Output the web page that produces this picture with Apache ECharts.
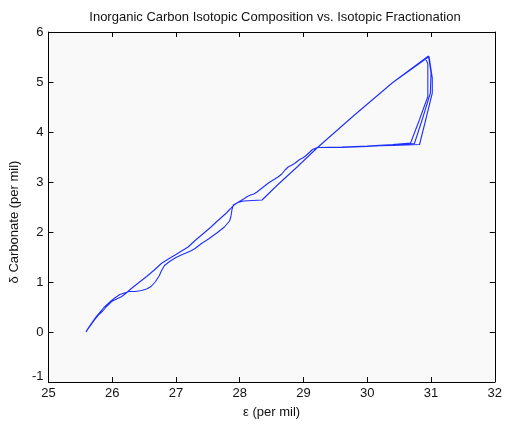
<!DOCTYPE html>
<html>
<head>
<meta charset="utf-8">
<script src="https://cdn.jsdelivr.net/npm/echarts@6/dist/echarts.min.js"></script>
<style>
  html, body { margin: 0; padding: 0; background: #ffffff; }
  #chart { width: 505px; height: 424px; }
</style>
</head>
<body>
<div id="chart"></div>
<script>
// Trajectory of [epsilon (per mil), delta carbonate (per mil)] pairs, in time order.

// Rising leg from the start point up the smooth upper track to the crossing near 27.9
const risingLeg = [
  [25.59, 0.00], [25.62, 0.06], [25.66, 0.13], [25.71, 0.22], [25.76, 0.30],
  [25.80, 0.36], [25.85, 0.42], [25.92, 0.52], [25.99, 0.61], [26.07, 0.66],
  [26.15, 0.71], [26.22, 0.78], [26.30, 0.87], [26.42, 0.99], [26.54, 1.11],
  [26.66, 1.24], [26.77, 1.37], [26.88, 1.46], [27.00, 1.55], [27.10, 1.63],
  [27.19, 1.70], [27.30, 1.83], [27.42, 1.96], [27.54, 2.09], [27.65, 2.22],
  [27.72, 2.30], [27.79, 2.38], [27.85, 2.46], [27.90, 2.53]
];

// Wiggly upper branch from the crossing to the foot of the triangle
const upperBranch = [
  [27.98, 2.60], [28.06, 2.66], [28.12, 2.71], [28.17, 2.74], [28.22, 2.76],
  [28.27, 2.80], [28.33, 2.86], [28.37, 2.90], [28.45, 2.98], [28.50, 3.02],
  [28.55, 3.06], [28.60, 3.10], [28.66, 3.16], [28.71, 3.24], [28.76, 3.30],
  [28.82, 3.34], [28.86, 3.37], [28.94, 3.45], [29.00, 3.49], [29.04, 3.53],
  [29.10, 3.60], [29.14, 3.65], [29.22, 3.69]
];

// Three passes round the triangle: along the base, up the right side, back down the diagonal
const loopOne = [
  [29.60, 3.70], [30.00, 3.72], [30.40, 3.75], [30.68, 3.78],
  [30.82, 4.25], [30.95, 4.71], [30.95, 5.05], [30.95, 5.37], [30.91, 5.47],
  [30.40, 4.99], [29.80, 4.34], [29.22, 3.69]
];
const loopTwo = [
  [29.60, 3.69], [30.00, 3.71], [30.40, 3.74], [30.74, 3.77],
  [30.87, 4.28], [30.99, 4.78], [31.00, 5.18], [30.96, 5.52],
  [30.40, 4.99], [29.80, 4.34], [29.22, 3.69]
];
const loopThree = [
  [29.60, 3.70], [30.00, 3.72], [30.40, 3.73], [30.82, 3.75],
  [30.92, 4.26], [31.02, 4.78], [31.02, 5.08], [30.97, 5.51],
  [30.40, 4.99], [29.80, 4.34], [29.22, 3.69]
];

// Return leg: straight lower track, flat step, drop at the crossing, wiggly lower track home
const returnLeg = [
  [28.90, 3.30], [28.60, 2.95], [28.35, 2.64], [28.20, 2.63], [28.06, 2.62],
  [27.97, 2.59], [27.90, 2.54], [27.88, 2.46], [27.87, 2.38], [27.86, 2.30],
  [27.84, 2.22], [27.76, 2.10], [27.64, 1.98], [27.51, 1.86], [27.40, 1.77],
  [27.30, 1.67], [27.23, 1.62], [27.10, 1.55], [27.00, 1.49], [26.90, 1.41],
  [26.82, 1.33], [26.77, 1.22], [26.74, 1.13], [26.68, 1.01], [26.61, 0.91],
  [26.54, 0.86], [26.46, 0.83], [26.36, 0.81], [26.26, 0.81], [26.19, 0.78],
  [26.12, 0.75], [26.05, 0.69], [25.99, 0.63], [25.93, 0.56], [25.87, 0.49],
  [25.81, 0.40], [25.75, 0.31], [25.70, 0.22], [25.64, 0.11], [25.59, 0.01]
];

const xTicks = { min: 25, max: 32, step: 1 };
const yTicks = { min: -1, max: 6, step: 1 };

const trajectory = [].concat(risingLeg, upperBranch, loopOne, loopTwo, loopThree, returnLeg);

const chart = echarts.init(document.getElementById('chart'), null, { renderer: 'canvas' });

const font = 'Liberation Sans, Arial, Helvetica, sans-serif';
const boxAxis = {
  type: 'value',
  axisLine: { show: true, onZero: false, lineStyle: { color: '#000', width: 1 } },
  axisTick: { show: true, inside: true, length: 5, lineStyle: { color: '#000' } },
  splitLine: { show: false }
};

chart.setOption({
  animation: false,
  backgroundColor: '#ffffff',
  title: {
    text: 'Inorganic Carbon Isotopic Composition vs. Isotopic Fractionation',
    left: 270,
    textAlign: 'center',
    top: 6,
    textStyle: { fontFamily: font, fontSize: 13, fontWeight: 'normal', color: '#111' }
  },
  grid: {
    left: 46, right: 8, top: 32, bottom: 40,
    show: true, backgroundColor: '#f9f9f9', borderWidth: 0
  },
  xAxis: [
    Object.assign({}, boxAxis, {
      position: 'bottom',
      min: xTicks.min, max: xTicks.max, interval: xTicks.step,
      name: 'ε (per mil)', nameLocation: 'middle', nameGap: 24,
      nameTextStyle: { fontFamily: font, fontSize: 13, color: '#111' },
      axisLabel: { fontFamily: font, fontSize: 13, color: '#111', margin: 5 }
    }),
    Object.assign({}, boxAxis, {
      position: 'top',
      min: xTicks.min, max: xTicks.max, interval: xTicks.step,
      axisLabel: { show: false }
    })
  ],
  yAxis: [
    Object.assign({}, boxAxis, {
      position: 'left',
      min: yTicks.min, max: yTicks.max, interval: yTicks.step,
      name: 'δ Carbonate (per mil)', nameLocation: 'middle', nameGap: 18,
      nameTextStyle: { fontFamily: font, fontSize: 13, color: '#111', padding: [0, 30, 0, 0] },
      axisLabel: {
        fontFamily: font, fontSize: 13, color: '#111', margin: 5,
        formatter: function (v) { return v === yTicks.min ? '{low|' + v + '}' : String(v); },
        rich: { low: { fontFamily: font, fontSize: 13, color: '#111', padding: [0, 0, 12, 0] } }
      }
    }),
    Object.assign({}, boxAxis, {
      position: 'right',
      min: yTicks.min, max: yTicks.max, interval: yTicks.step,
      axisLabel: { show: false }
    })
  ],
  series: [{
    type: 'line',
    xAxisIndex: 0,
    yAxisIndex: 0,
    data: trajectory,
    showSymbol: false,
    symbol: 'none',
    smooth: false,
    lineStyle: { color: '#1f2fff', width: 1.1 },
    z: 3
  }]
});
</script>
</body>
</html>
